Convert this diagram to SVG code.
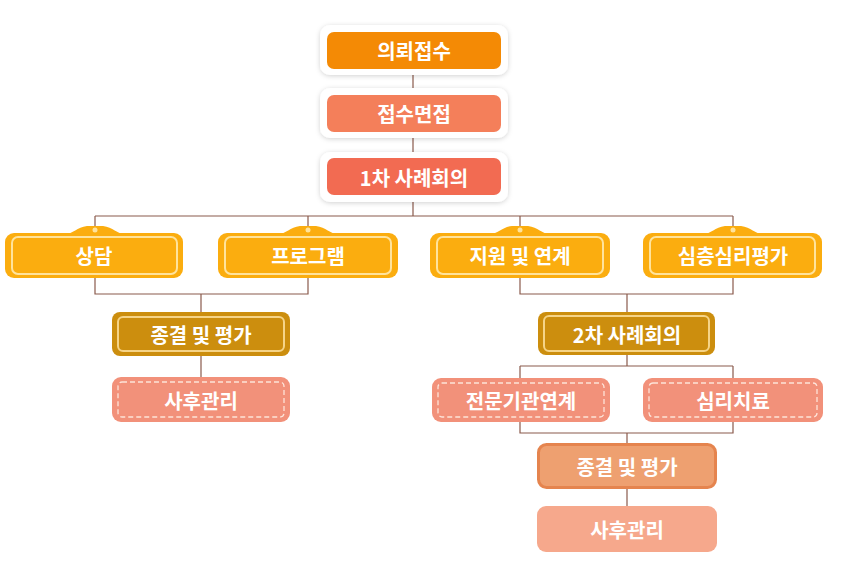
<svg xmlns="http://www.w3.org/2000/svg" width="847" height="574" viewBox="0 0 847 574">
<defs>
<filter id="sh" x="-10%" y="-30%" width="120%" height="160%">
<feDropShadow dx="0" dy="1" stdDeviation="2.5" flood-color="#000" flood-opacity="0.18"/>
</filter>
<path id="tab" d="M-30,7 C-22,7 -18,0 -8,-1 L8,-1 C18,0 22,7 30,7 Z"/>
</defs>
<style>
.t{font-family:"Noto Sans CJK KR","Noto Sans",sans-serif;font-weight:bold;font-size:20px;fill:#fff;text-anchor:middle;dominant-baseline:central}
.c{fill:none;stroke:#8a5a4c;stroke-width:1.2}
.frame{fill:#fff;filter:url(#sh)}
.amber{fill:#fbad0f}
.amberIn{fill:none;stroke:#ffe39c;stroke-width:2}
.gold{fill:#cc8e0e}
.goldIn{fill:none;stroke:#f6d487;stroke-width:2}
.salmon{fill:#f2917a}
.dash{fill:none;stroke:#fde3d8;stroke-width:1.3;stroke-dasharray:5 3}
.dot{fill:#ffe39c}
</style>
<rect width="847" height="574" fill="#fff"/>
<g id="connectors">
<path class="c" d="M413,75 V88 M413,138 V152 M413,202 V216 M95,216 H733 M95,216 V230 M308,216 V230 M520,216 V230 M733,216 V230"/>
<path class="c" d="M95,278 V294 H308 V278 M201,294 V312 M201,356 V377"/>
<path class="c" d="M520,278 V294 H733 V278 M627,294 V312 M627,355 V366 M520,366 H733 M520,366 V378 M733,366 V378"/>
<path class="c" d="M520,422 V433 H733 V422 M627,433 V443 M627,488 V506"/>
</g>
<g id="n1">
<rect class="frame" x="320" y="25" width="188" height="50" rx="10"/>
<rect x="327" y="32" width="174" height="37" rx="7" fill="#f48a05"/>
<text class="t" x="414" y="50">의뢰접수</text>
</g>
<g id="n2">
<rect class="frame" x="320" y="88" width="188" height="50" rx="10"/>
<rect x="327" y="95" width="174" height="37" rx="7" fill="#f47f5a"/>
<text class="t" x="414" y="113">접수면접</text>
</g>
<g id="n3">
<rect class="frame" x="320" y="152" width="188" height="50" rx="10"/>
<rect x="327" y="158" width="174" height="37" rx="7" fill="#f26b52"/>
<text class="t" x="414" y="177">1차 사례회의</text>
</g>
<g id="n4">
<use href="#tab" x="95" y="227" class="amber"/>
<rect class="amber" x="5" y="233" width="178" height="45" rx="9"/>
<rect class="amberIn" x="12" y="237" width="165" height="37" rx="6"/>
<circle class="dot" cx="95" cy="230" r="2.5"/>
<text class="t" x="94" y="255">상담</text>
</g>
<g id="n5">
<use href="#tab" x="308" y="227" class="amber"/>
<rect class="amber" x="218" y="233" width="180" height="45" rx="9"/>
<rect class="amberIn" x="225" y="237" width="166" height="37" rx="6"/>
<circle class="dot" cx="308" cy="230" r="2.5"/>
<text class="t" x="308" y="255">프로그램</text>
</g>
<g id="n6">
<use href="#tab" x="520" y="227" class="amber"/>
<rect class="amber" x="430" y="233" width="180" height="45" rx="9"/>
<rect class="amberIn" x="437" y="237" width="166" height="37" rx="6"/>
<circle class="dot" cx="520" cy="230" r="2.5"/>
<text class="t" x="520" y="255">지원 및 연계</text>
</g>
<g id="n7">
<use href="#tab" x="733" y="227" class="amber"/>
<rect class="amber" x="643" y="233" width="179" height="45" rx="9"/>
<rect class="amberIn" x="650" y="237" width="165" height="37" rx="6"/>
<circle class="dot" cx="733" cy="230" r="2.5"/>
<text class="t" x="733" y="255">심층심리평가</text>
</g>
<g id="n8">
<rect class="gold" x="112" y="312" width="178" height="44" rx="8"/>
<rect class="goldIn" x="118" y="317" width="166" height="34" rx="5"/>
<text class="t" x="201" y="334">종결 및 평가</text>
</g>
<g id="n9">
<rect class="salmon" x="112" y="377" width="178" height="45" rx="9"/>
<rect class="dash" x="118" y="382" width="166" height="35" rx="4"/>
<text class="t" x="201" y="400">사후관리</text>
</g>
<g id="n10">
<rect class="gold" x="538" y="312" width="177" height="43" rx="8"/>
<rect class="goldIn" x="544" y="316" width="165" height="35" rx="5"/>
<text class="t" x="627" y="334">2차 사례회의</text>
</g>
<g id="n11">
<rect class="salmon" x="432" y="378" width="178" height="44" rx="9"/>
<rect class="dash" x="438" y="383" width="166" height="34" rx="4"/>
<text class="t" x="521" y="400">전문기관연계</text>
</g>
<g id="n12">
<rect class="salmon" x="643" y="378" width="180" height="44" rx="9"/>
<rect class="dash" x="649" y="383" width="168" height="34" rx="4"/>
<text class="t" x="733" y="400">심리치료</text>
</g>
<g id="n13">
<rect x="538.5" y="444.5" width="177" height="43" rx="8" fill="#eea070" stroke="#e5844e" stroke-width="3"/>
<text class="t" x="627" y="466">종결 및 평가</text>
</g>
<g id="n14">
<rect x="537" y="506" width="180" height="46" rx="9" fill="#f6a88c"/>
<text class="t" x="627" y="529">사후관리</text>
</g>
</svg>
